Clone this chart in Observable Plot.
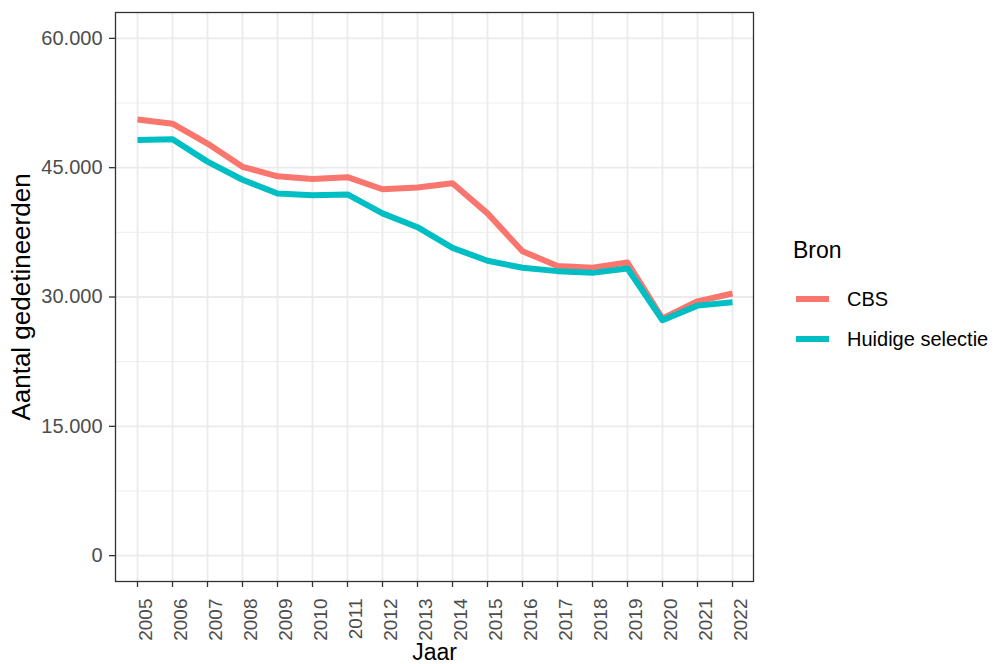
<!DOCTYPE html>
<html>
<head>
<meta charset="utf-8">
<script src="https://cdn.jsdelivr.net/npm/d3@7"></script>
<script src="https://cdn.jsdelivr.net/npm/@observablehq/plot@0.6"></script>
<style>
  html, body { margin: 0; padding: 0; background: #fff; }
  #wrap { position: relative; width: 995px; height: 664px; font-family: "Liberation Sans", Arial, sans-serif; }
  #wrap svg { font-family: "Liberation Sans", Arial, sans-serif; }
  g[aria-label="y-axis tick label"] { font-size: 20px; fill: #4d4d4d; }
  g[aria-label="x-axis tick label"] { font-size: 19px; fill: #4d4d4d; }
  g[aria-label="y-axis label"] { font-size: 26px; fill: #000; }
  g[aria-label="x-axis label"] { font-size: 23px; fill: #000; }
  #legend { position: absolute; left: 793px; top: 239px; color: #000; }
  #legend .title { font-size: 23px; line-height: 23px; margin-bottom: 17px; }
  #legend .row { display: flex; align-items: center; height: 40px; }
  #legend .key { width: 33px; height: 6px; margin-left: 3px; margin-right: 18px; }
  #legend .lab { font-size: 20px; }
</style>
</head>
<body>
<div id="wrap"></div>
<script>
// Data
const years = [2005, 2006, 2007, 2008, 2009, 2010, 2011, 2012, 2013, 2014, 2015, 2016, 2017, 2018, 2019, 2020, 2021, 2022];
const cbs = [50600, 50100, 47800, 45100, 44000, 43700, 43900, 42500, 42700, 43200, 39700, 35300, 33600, 33400, 34000, 27500, 29500, 30400];
const huidigeSelectie = [48200, 48300, 45700, 43600, 42000, 41800, 41900, 39700, 38100, 35700, 34200, 33400, 33000, 32800, 33300, 27300, 29000, 29400];
const seriesNames = ["CBS", "Huidige selectie"];
const seriesColors = ["#F8766D", "#00BFC4"];
const yMajorTicks = [0, 15000, 30000, 45000, 60000];
const yMinorTicks = [7500, 22500, 37500, 52500];
const xTitle = "Jaar";
const yTitle = "Aantal gedetineerden";
const legendTitle = "Bron";

const seriesValues = [cbs, huidigeSelectie];
const data = [];
seriesNames.forEach((name, i) => {
  years.forEach((yr, j) => data.push({ year: yr, value: seriesValues[i][j], bron: name }));
});

const fmt = v => d3.format(",")(v).replace(/,/g, ".");

const plot = Plot.plot({
  width: 995,
  height: 664,
  marginLeft: 115,
  marginRight: 242,
  marginTop: 12,
  marginBottom: 83,
  x: { type: "point", domain: years, padding: 0.6 },
  y: { domain: [-3000, 63000] },
  color: { domain: seriesNames, range: seriesColors },
  marks: [
    Plot.ruleY(yMinorTicks, { stroke: "#ebebeb", strokeWidth: 0.9 }),
    Plot.ruleY(yMajorTicks, { stroke: "#ebebeb", strokeWidth: 1.8 }),
    Plot.ruleX(years, { stroke: "#ebebeb", strokeWidth: 1.8 }),
    Plot.line(data, { x: "year", y: "value", z: "bron", stroke: "bron", strokeWidth: 6, strokeLinecap: "butt", strokeLinejoin: "round" }),
    Plot.frame({ stroke: "#333333", strokeWidth: 1.3 }),
    Plot.axisY({ ticks: yMajorTicks, tickFormat: fmt, tickSize: 6, tickPadding: 7, stroke: "#333333", strokeWidth: 1.3,
      label: yTitle, labelAnchor: "center", labelArrow: "none", labelOffset: 104 }),
    Plot.axisX({ ticks: years, tickSize: 6, tickFormat: () => "", stroke: "#333333", strokeWidth: 1.3,
      label: xTitle, labelAnchor: "center", labelArrow: "none", labelOffset: 78 }),
    Plot.axisX({ ticks: years, tickSize: 0, tickRotate: -90, tickPadding: 13, dx: 8, dy: 4, tickFormat: d => String(d),
      label: null })
  ]
});

const wrap = document.getElementById("wrap");
wrap.appendChild(plot);

// Legend
const legend = document.createElement("div");
legend.id = "legend";
const t = document.createElement("div");
t.className = "title";
t.textContent = legendTitle;
legend.appendChild(t);
seriesNames.forEach((name, i) => {
  const row = document.createElement("div");
  row.className = "row";
  const key = document.createElement("div");
  key.className = "key";
  key.style.background = seriesColors[i];
  const lab = document.createElement("div");
  lab.className = "lab";
  lab.textContent = name;
  row.appendChild(key);
  row.appendChild(lab);
  legend.appendChild(row);
});
wrap.appendChild(legend);
</script>
</body>
</html>
